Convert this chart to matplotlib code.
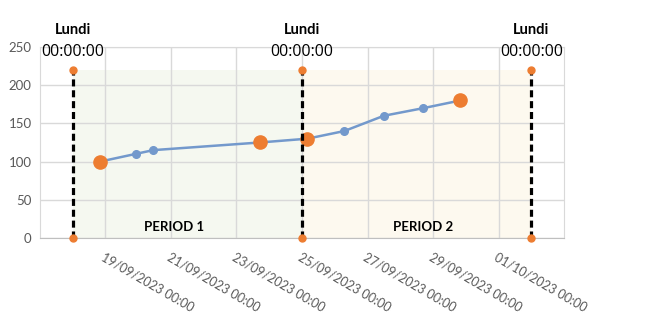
import matplotlib.pyplot as plt
import matplotlib.dates as mdates
import pandas as pd

plt.rcParams['font.family'] = ['Lato', 'DejaVu Sans']

# series (blue line)
dates = ["2023-09-18 20:00", "2023-09-19 22:00", "2023-09-20 11:00", "2023-09-23 17:00",
         "2023-09-25 04:00", "2023-09-26 07:00", "2023-09-27 12:00", "2023-09-28 17:00",
         "2023-09-29 20:00"]
values = [100, 110, 115, 125, 130, 140, 160, 170, 180]

# highlighted points (orange)
hl_dates = ["2023-09-18 20:00", "2023-09-23 17:00", "2023-09-25 04:00", "2023-09-29 20:00"]
hl_values = [100, 125, 130, 180]

# mondays and periods
mondays = ["2023-09-18", "2023-09-25", "2023-10-02"]
monday_top = 220
period_labels = ["PERIOD 1", "PERIOD 2"]
period_label_pos = ["2023-09-21 02:00", "2023-09-28 17:00"]
period_colors = ["#f5f8f0", "#fdf9ef"]

x = pd.to_datetime(dates)
hx = pd.to_datetime(hl_dates)
mx = pd.to_datetime(mondays)
px = pd.to_datetime(period_label_pos)

fig = plt.figure(figsize=(6.63, 3.18), dpi=100)
ax = fig.add_axes([0.0603, 0.2516, 0.7904, 0.6006])

for i in range(len(mondays) - 1):
    ax.fill_between([mx[i], mx[i + 1]], 0, monday_top, color=period_colors[i], zorder=0, lw=0)

ax.plot(x, values, color="#7399cc", lw=1.8, marker="o", ms=5.5, zorder=3)
ax.plot(hx, hl_values, "o", color="#ed7d31", ms=9.5, zorder=4, lw=0)

for m in mx:
    ax.plot([m, m], [0, monday_top], color="black", lw=2.3, linestyle=(0, (2.2, 1.2)), zorder=5)
    ax.plot([m, m], [0, monday_top], "o", color="#ed7d31", ms=5, zorder=6, clip_on=False)
    ax.text(m, 272, "Lundi", ha="center", va="center", fontsize=10.5, fontweight="bold", clip_on=False)
    ax.text(m, 243, "00:00:00", ha="center", va="center", fontsize=11.5, clip_on=False,
            family=["Open Sans", "DejaVu Sans"])

for lbl, p in zip(period_labels, px):
    ax.text(p, 14, lbl, ha="center", va="center", fontsize=9.5, fontweight="bold")

ax.set_xlim(pd.Timestamp("2023-09-17"), pd.Timestamp("2023-10-03"))
ax.set_ylim(0, 250)
ax.set_yticks(range(0, 251, 50))
ax.xaxis.set_major_locator(mdates.DayLocator(bymonthday=[19, 21, 23, 25, 27, 29, 1]))
ax.xaxis.set_major_formatter(mdates.DateFormatter("%d/%m/%Y %H:%M"))
ax.grid(True, color="#d9d9d9", lw=1, zorder=1)
ax.set_axisbelow(True)
ax.tick_params(length=0, colors="#595959", labelsize=9.5)
ax.tick_params(axis="y", pad=6)
ax.tick_params(axis="x", pad=9, labelsize=9)
for lab in ax.get_xticklabels():
    lab.set_rotation(-30)
    lab.set_ha("left")
    lab.set_va("top")
    lab.set_rotation_mode("anchor")
for s in ax.spines.values():
    s.set_color("#d9d9d9")
ax.spines["bottom"].set_color("#bfbfbf")

fig.savefig("out.png", dpi=100)
